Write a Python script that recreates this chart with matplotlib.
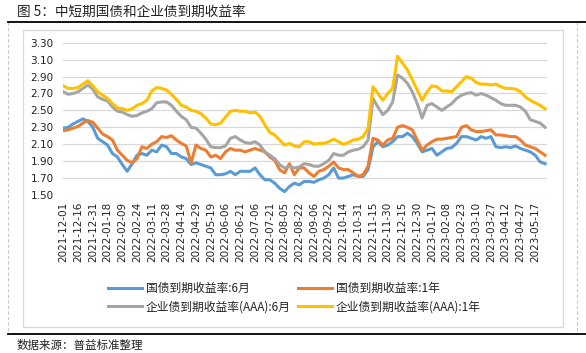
import numpy as np
import matplotlib
matplotlib.use("Agg")
import matplotlib.pyplot as plt
from matplotlib.lines import Line2D
from matplotlib.patches import Rectangle

plt.rcParams['font.family'] = ['Noto Sans CJK SC', 'DejaVu Sans']

tick_labels = [
    "2021-12-01", "2021-12-16", "2021-12-31", "2022-01-18", "2022-02-09", "2022-02-24",
    "2022-03-11", "2022-03-28", "2022-04-14", "2022-04-29", "2022-05-19", "2022-06-06",
    "2022-06-21", "2022-07-06", "2022-07-21", "2022-08-05", "2022-08-22", "2022-09-06",
    "2022-09-22", "2022-10-14", "2022-10-31", "2022-11-15", "2022-11-30", "2022-12-15",
    "2022-12-30", "2023-01-17", "2023-02-08", "2023-02-23", "2023-03-10", "2023-03-27",
    "2023-04-12", "2023-04-27", "2023-05-17",
]
samples_per_tick = 3

gov_6m = [
    2.29, 2.30, 2.34, 2.37, 2.40, 2.37, 2.30, 2.17, 2.13, 2.09, 1.99, 1.95, 1.86, 1.78, 1.87, 1.97, 1.99,
    1.97, 2.03, 2.01, 2.09, 2.07, 1.99, 1.99, 1.95, 1.93, 1.86, 1.88, 1.86, 1.84, 1.82, 1.74, 1.74, 1.75,
    1.78, 1.74, 1.78, 1.78, 1.78, 1.82, 1.74, 1.68, 1.68, 1.64, 1.58, 1.54, 1.60, 1.64, 1.62, 1.66, 1.66,
    1.65, 1.68, 1.70, 1.74, 1.82, 1.70, 1.70, 1.72, 1.74, 1.72, 1.72, 1.80, 2.07, 2.13, 2.07, 2.09,
    2.13, 2.19, 2.19, 2.23, 2.19, 2.11, 2.01, 2.03, 2.05, 1.97, 2.01, 2.05, 2.06, 2.11, 2.19, 2.19,
    2.17, 2.15, 2.19, 2.17, 2.19, 2.07, 2.06, 2.07, 2.06, 2.08, 2.05, 2.03, 2.01, 1.97, 1.89, 1.87,
]
gov_1y = [
    2.26, 2.27, 2.29, 2.31, 2.35, 2.38, 2.36, 2.29, 2.22, 2.19, 2.15, 2.03, 1.97, 1.91, 1.88, 1.93, 2.07,
    2.05, 2.10, 2.13, 2.19, 2.18, 2.20, 2.15, 2.11, 2.08, 1.88, 2.09, 2.05, 2.03, 1.95, 1.97, 1.93, 2.01,
    2.05, 2.03, 2.03, 2.01, 2.03, 2.05, 2.03, 2.01, 1.95, 1.91, 1.80, 1.76, 1.87, 1.74, 1.82, 1.82, 1.76,
    1.72, 1.78, 1.80, 1.84, 1.89, 1.82, 1.80, 1.80, 1.76, 1.72, 1.74, 1.84, 2.17, 2.15, 2.09, 2.15,
    2.17, 2.30, 2.32, 2.30, 2.27, 2.15, 2.03, 2.09, 2.13, 2.16, 2.16, 2.17, 2.18, 2.19, 2.30, 2.32,
    2.27, 2.25, 2.25, 2.26, 2.27, 2.21, 2.21, 2.20, 2.19, 2.19, 2.15, 2.09, 2.07, 2.05, 2.01, 1.97,
]
corp_6m = [
    2.72, 2.69, 2.70, 2.72, 2.76, 2.80, 2.75, 2.66, 2.63, 2.61, 2.54, 2.49, 2.48, 2.45, 2.43, 2.44, 2.47,
    2.49, 2.52, 2.59, 2.60, 2.60, 2.56, 2.49, 2.43, 2.39, 2.30, 2.29, 2.23, 2.16, 2.07, 2.06, 2.06, 2.08,
    2.17, 2.19, 2.15, 2.12, 2.11, 2.13, 2.09, 2.01, 1.97, 1.93, 1.86, 1.82, 1.84, 1.82, 1.83, 1.87, 1.86,
    1.84, 1.84, 1.87, 1.91, 1.99, 1.97, 1.97, 2.01, 2.03, 2.04, 2.07, 2.15, 2.64, 2.54, 2.45, 2.50,
    2.60, 2.92, 2.88, 2.82, 2.72, 2.58, 2.41, 2.56, 2.58, 2.54, 2.50, 2.54, 2.58, 2.64, 2.68, 2.70,
    2.71, 2.68, 2.70, 2.68, 2.65, 2.62, 2.58, 2.56, 2.56, 2.56, 2.54, 2.49, 2.39, 2.37, 2.35, 2.30,
]
corp_1y = [
    2.79, 2.76, 2.76, 2.77, 2.81, 2.85, 2.79, 2.72, 2.68, 2.64, 2.58, 2.53, 2.52, 2.50, 2.52, 2.56, 2.58,
    2.62, 2.73, 2.77, 2.76, 2.74, 2.69, 2.63, 2.56, 2.54, 2.50, 2.49, 2.46, 2.41, 2.34, 2.33, 2.35, 2.42,
    2.49, 2.50, 2.49, 2.49, 2.47, 2.48, 2.43, 2.33, 2.24, 2.21, 2.15, 2.09, 2.11, 2.08, 2.07, 2.13, 2.13,
    2.10, 2.11, 2.11, 2.13, 2.16, 2.13, 2.10, 2.12, 2.15, 2.16, 2.19, 2.29, 2.78, 2.70, 2.62, 2.70,
    2.76, 3.14, 3.06, 2.98, 2.86, 2.74, 2.62, 2.72, 2.79, 2.78, 2.73, 2.73, 2.72, 2.78, 2.84, 2.90,
    2.88, 2.83, 2.81, 2.81, 2.80, 2.81, 2.78, 2.76, 2.76, 2.75, 2.72, 2.66, 2.62, 2.59, 2.56, 2.52,
]

series = [
    ("国债到期收益率:6月", gov_6m, "#5B9BD5"),
    ("国债到期收益率:1年", gov_1y, "#ED7D31"),
    ("企业债到期收益率(AAA):6月", corp_6m, "#A5A5A5"),
    ("企业债到期收益率(AAA):1年", corp_1y, "#FFC000"),
]

W, H = 586, 353
fig = plt.figure(figsize=(W / 100, H / 100), dpi=100)

def fx(px):
    return px / W

def fy(py):
    return 1 - py / H

# frame decorations
fig.add_artist(Rectangle((fx(22.7), fy(327)), fx(562.7) - fx(22.7), fy(30) - fy(327),
                         fill=False, edgecolor="#d9d9d9", lw=0.9, transform=fig.transFigure))
fig.add_artist(Line2D([fx(8), fx(8)], [fy(22), fy(334)], color="#c8c8c8", lw=0.8,
                      ls=(0, (3, 2)), transform=fig.transFigure))
fig.add_artist(Line2D([fx(577), fx(577)], [fy(22), fy(334)], color="#c8c8c8", lw=0.8,
                      ls=(0, (3, 2)), transform=fig.transFigure))
fig.add_artist(Line2D([fx(8), fx(586)], [fy(22), fy(22)], color="black", lw=1.3,
                      transform=fig.transFigure))
fig.add_artist(Line2D([fx(8), fx(586)], [fy(334), fy(334)], color="black", lw=1.3,
                      transform=fig.transFigure))

fig.text(fx(17), fy(12), "图 5：中短期国债和企业债到期收益率", fontsize=9.8, color="#222222",
         va="center", ha="left")
fig.text(fx(17), fy(345), "数据来源：普益标准整理", fontsize=8.3, color="#222222",
         va="center", ha="left")

ax = fig.add_axes([fx(63.3), fy(195), fx(547) - fx(63.3), fy(42.7) - fy(195)])
n = len(gov_6m)
x = np.arange(n)
handles = {}
for label, vals, color in series:
    (ln,) = ax.plot(x, vals, color=color, lw=2.2, label=label, solid_joinstyle="round")
    handles[label] = ln

ax.set_xlim(0, n - 1 + 0.4)
ax.set_ylim(1.50, 3.30)
yt = np.arange(1.50, 3.31, 0.20)
ax.set_yticks(yt)
ax.set_yticklabels([f"{v:.2f}" for v in yt], fontsize=7.5, color="#222222",
                   family="DejaVu Sans")
ax.set_xticks(np.arange(len(tick_labels)) * samples_per_tick)
ax.set_xticklabels(tick_labels, rotation=90, fontsize=7.5, color="#222222",
                   family="DejaVu Sans")
ax.tick_params(axis="both", length=0)
ax.tick_params(axis="y", pad=7)
ax.tick_params(axis="x", pad=5)
ax.grid(axis="y", color="#d9d9d9", lw=0.9)
ax.set_axisbelow(True)
for s in ax.spines.values():
    s.set_visible(False)
ax.patch.set_alpha(0)

order = [series[0][0], series[2][0], series[1][0], series[3][0]]
leg = fig.legend([handles[k] for k in order], order, ncol=2, loc="upper left",
                 bbox_to_anchor=(fx(108), fy(282)), frameon=False, fontsize=8.5,
                 handlelength=2.9, handletextpad=0.3, columnspacing=0.6,
                 labelspacing=0.45, borderaxespad=0, borderpad=0)
for t in leg.get_texts():
    t.set_color("#222222")

fig.savefig("out.png", dpi=100)
